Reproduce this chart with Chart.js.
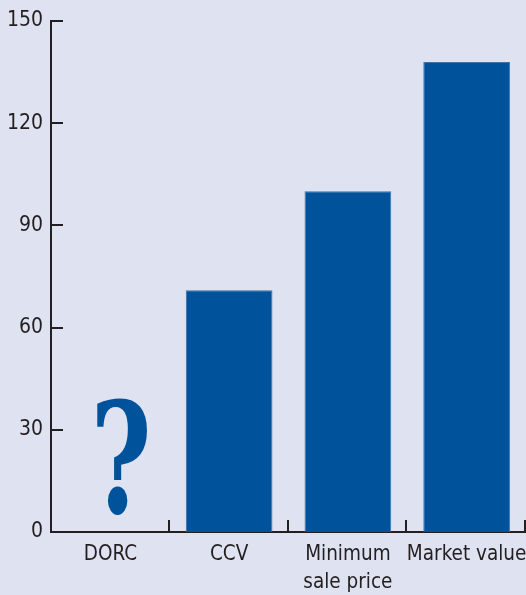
<!DOCTYPE html>
<html>
<head>
<meta charset="utf-8">
<script src="https://cdn.jsdelivr.net/npm/chart.js@4/dist/chart.umd.min.js"></script>
<style>
  html, body { margin: 0; padding: 0; background: #dfe2f1; overflow: hidden; }
  #wrap { width: 526px; height: 595px; position: relative; }
</style>
</head>
<body>
<div id="wrap"><canvas id="c" width="526" height="595"></canvas></div>
<script>
const categories = ["DORC", "CCV", ["Minimum", "sale price"], "Market value"];
const values = [null, 71, 100, 138];
const unknownMarker = "?";
const unknownIndex = 0;
const yTicks = [0, 30, 60, 90, 120, 150];

const FONT = "'Liberation Sans Narrow', 'DejaVu Sans Condensed', 'Arial Narrow', sans-serif";
const INK = '#231f20';
const BLUE = '#00529b';
const QFONT = "'DejaVu Serif', 'Liberation Serif', serif";

// inward tick marks, positioned from the scales
const tickPlugin = {
  id: 'inwardTicks',
  afterDraw(chart) {
    const { ctx, scales: { x, y }, chartArea } = chart;
    ctx.save();
    ctx.strokeStyle = INK;
    ctx.lineWidth = 2;
    ctx.beginPath();
    yTicks.forEach(v => {
      const py = Math.round(y.getPixelForValue(v));
      ctx.moveTo(chartArea.left, py);
      ctx.lineTo(chartArea.left + 12, py);
    });
    for (let i = 1; i <= categories.length; i++) {
      const px = Math.round(x.getPixelForValue(i - 0.5)) - 1;
      ctx.moveTo(px, chartArea.bottom);
      ctx.lineTo(px, chartArea.bottom - 12);
    }
    ctx.stroke();
    ctx.restore();
  }
};

const questionPlugin = {
  id: 'questionMark',
  afterDatasetsDraw(chart) {
    const xc = chart.scales.x.getPixelForValue(unknownIndex);
    const base = chart.scales.y.getPixelForValue(5);
    const top = chart.scales.y.getPixelForValue(39);
    const ctx = chart.ctx;
    ctx.save();
    ctx.fillStyle = BLUE;
    ctx.font = "bold 100px " + QFONT;
    ctx.textAlign = 'left';
    ctx.textBaseline = 'alphabetic';
    const m = ctx.measureText(unknownMarker);
    const h = m.actualBoundingBoxAscent + m.actualBoundingBoxDescent;
    const size = 100 * (base - top) / h;
    ctx.font = "bold " + size + "px " + QFONT;
    const m2 = ctx.measureText(unknownMarker);
    const inkW = m2.actualBoundingBoxLeft + m2.actualBoundingBoxRight;
    const sx = 50 / inkW;
    const left = xc - 13;
    ctx.translate(left, base - m2.actualBoundingBoxDescent);
    ctx.scale(sx, 1);
    ctx.fillText(unknownMarker, m2.actualBoundingBoxLeft, 0);
    ctx.restore();
  }
};

new Chart(document.getElementById('c'), {
  type: 'bar',
  data: {
    labels: categories,
    datasets: [{
      data: values,
      backgroundColor: BLUE,
      borderColor: '#3d72ad',
      borderWidth: 1,
      barPercentage: 0.73,
      categoryPercentage: 1.0
    }]
  },
  options: {
    responsive: false,
    animation: false,
    layout: { padding: { top: 21, right: 0, bottom: 0, left: 0 } },
    plugins: { legend: { display: false }, tooltip: { enabled: false } },
    scales: {
      x: {
        offset: true,
        grid: { display: false, drawOnChartArea: false, drawTicks: false },
        border: { display: true, color: INK, width: 2 },
        ticks: {
          color: INK,
          font: { family: FONT, size: 20.5, lineHeight: 1.4 },
          padding: 8,
          maxRotation: 0,
          autoSkip: false
        },
        afterFit(s) {
          s.height = 63;
          s.paddingLeft = 0; s.paddingRight = 0;
        }
      },
      y: {
        min: 0,
        max: 150,
        afterBuildTicks(scale) { scale.ticks = yTicks.map(v => ({ value: v })); },
        grid: { display: false, drawOnChartArea: false, drawTicks: false },
        border: { display: true, color: INK, width: 2 },
        ticks: {
          color: INK,
          font: { family: FONT, size: 21 },
          padding: 8
        },
        afterFit(s) {
          s.width = 51;
          s.paddingTop = 0; s.paddingBottom = 0;
        }
      }
    }
  },
  plugins: [tickPlugin, questionPlugin]
});
</script>
</body>
</html>
